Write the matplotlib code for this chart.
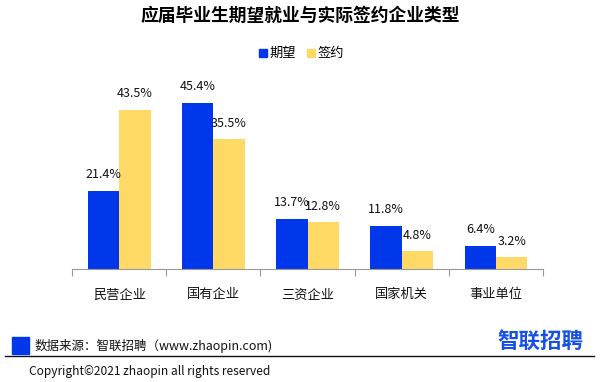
"""
应届毕业生期望就业与实际签约企业类型 - 分组柱状图
"""

import matplotlib
matplotlib.use("Agg")
from matplotlib import pyplot as plt
from matplotlib.patches import Rectangle
from matplotlib.lines import Line2D

plt.rcParams['font.family'] = ['Noto Sans CJK SC', 'DejaVu Sans']

# 数据
categories = ['民营企业', '国有企业', '三资企业', '国家机关', '事业单位']
expected = [21.4, 45.4, 13.7, 11.8, 6.4]
signed = [43.5, 35.5, 12.8, 4.8, 3.2]
series_names = ['期望', '签约']

BLUE = '#0037EA'
YELLOW = '#FFD966'

W, H = 600, 382
fig = plt.figure(figsize=(W / 100, H / 100), dpi=100)


def px(x, y):
    """Piksele (od lewego górnego rogu) -> współrzędne figury"""
    return x / W, 1 - y / H


# Osie wykresu
ax = fig.add_axes([72 / W, (H - 269) / H, 471 / W, 183 / H])
ax.set_xlim(-0.5, len(categories) - 0.5)
ax.set_ylim(0, 50)

bw = 1 / 3
xs = list(range(len(categories)))
b1 = ax.bar([x - bw / 2 for x in xs], expected, width=bw, color=BLUE)
b2 = ax.bar([x + bw / 2 for x in xs], signed, width=bw, color=YELLOW)

for bars, vals in ((b1, expected), (b2, signed)):
    for rect, v in zip(bars, vals):
        ax.annotate(f'{v}%', (rect.get_x() + rect.get_width() / 2, v),
                    xytext=(0, 11.5), textcoords='offset points',
                    ha='center', va='center', fontsize=9, color='#111111')

for side in ('top', 'right', 'left'):
    ax.spines[side].set_visible(False)
ax.spines['bottom'].set_color('#999999')
ax.set_yticks([])
ax.set_xticks([x - 0.5 for x in range(len(categories) + 1)])
ax.set_xticklabels([])
ax.tick_params(axis='x', which='major', length=5, color='#999999')
ax.set_xticks(xs, minor=True)
ax.set_xticklabels(categories, minor=True, fontsize=9.5, color='#111111')
ax.tick_params(axis='x', which='minor', length=0, pad=14)

# Tytuł
fig.text(*px(300, 16), '应届毕业生期望就业与实际签约企业类型',
         ha='center', va='center', fontsize=12.8, fontweight='bold')

# Legenda
for (x0, name, col) in ((259, series_names[0], BLUE), (307, series_names[1], YELLOW)):
    fx, fy = px(x0, 57)
    fig.add_artist(Rectangle((fx, fy), 8 / W, 8 / H, color=col,
                             transform=fig.transFigure))
    fig.text(*px(x0 + 11, 53), name, ha='left', va='center', fontsize=9.5)

# Stopka
fx, fy = px(12, 354)
fig.add_artist(Rectangle((fx, fy), 17 / W, 17 / H, color=BLUE,
                         transform=fig.transFigure))
fig.text(*px(35, 346), '数据来源：智联招聘（www.zhaopin.com)',
         ha='left', va='center', fontsize=9, color='#111111')
fig.text(*px(540, 341), '智联招聘', ha='center', va='center',
         fontsize=15.5, fontweight='bold', color='#1550E8')
x1, y1 = px(5, 356)
x2, _ = px(594, 356)
fig.add_artist(Line2D([x1, x2], [y1, y1], color='#111111', lw=1,
                      transform=fig.transFigure))
fig.text(*px(29, 372), 'Copyright©2021 zhaopin all rights reserved',
         ha='left', va='center', fontsize=8.6, color='#111111')

fig.savefig('out.png', dpi=100)
